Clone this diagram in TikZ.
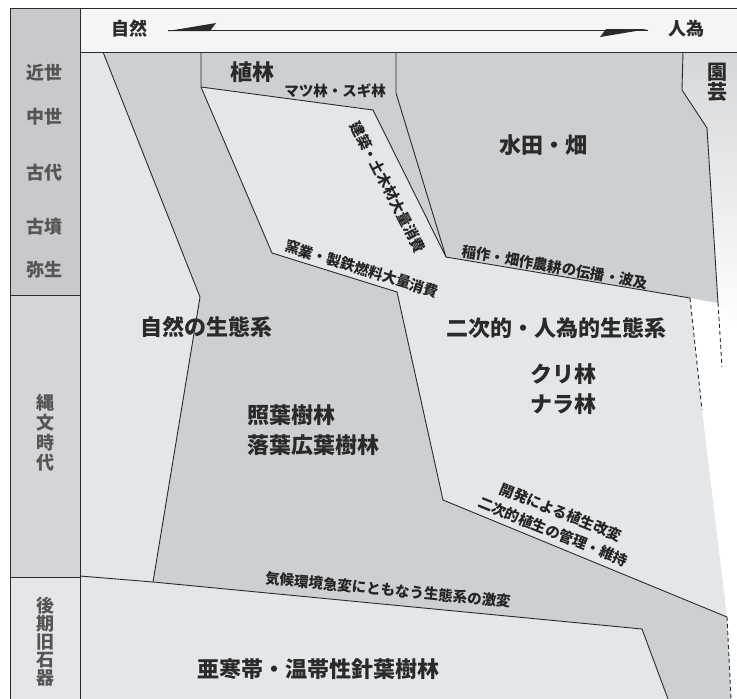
\documentclass[tikz,border=0pt]{standalone}
\usepackage{fontspec}
\setmainfont{Noto Sans CJK JP}
\definecolor{lightreg}{HTML}{E4E7EA}
\definecolor{medreg}{HTML}{CDD0D3}
\definecolor{colup}{HTML}{C7C9CC}
\definecolor{colmid}{HTML}{D3D5D8}
\definecolor{collow}{HTML}{E4E6E9}
\definecolor{barbg}{HTML}{F4F5F7}
\definecolor{ink}{HTML}{2A2A2A}
\tikzset{
  bound/.style={draw=ink, line width=0.9pt, line join=round},
  dashb/.style={draw=ink, line width=0.9pt, dash pattern=on 4pt off 3pt},
  biglabel/.style={font=\fontsize{22}{30}\selectfont\bfseries, text=ink, inner sep=0pt},
  smalllabel/.style={font=\fontsize{14.5}{21}\selectfont\bfseries, text=ink!85!black, inner sep=0pt},
  eralabel/.style={font=\fontsize{18}{20}\selectfont\bfseries, text=ink!80, inner sep=0pt, align=center},
  barlabel/.style={font=\fontsize{18}{20}\selectfont\bfseries, text=ink, inner sep=0pt},
}
\begin{document}
\begin{tikzpicture}[x=1pt,y=-1pt]
\useasboundingbox (0,0) rectangle (737,699);
% vertices
\coordinate (a1) at (103,52);
\coordinate (a2) at (200,297);
\coordinate (a3) at (153,582);
\coordinate (k0) at (80,576);
\coordinate (k1) at (642,629);
\coordinate (k2) at (668,699);
\coordinate (b0) at (201,52);
\coordinate (b1) at (201,87);
\coordinate (b2) at (272,253);
\coordinate (b3) at (397,292);
\coordinate (b4) at (443,500);
\coordinate (b5) at (727,617);
\coordinate (b6) at (731,699);
\coordinate (m1) at (373,110);
\coordinate (m2) at (446,257);
\coordinate (p0) at (396,52);
\coordinate (p1) at (396,93);
\coordinate (r1) at (690,298);
\coordinate (r2) at (702,410);
\coordinate (g0) at (683,52);
\coordinate (g1) at (682,90);
\coordinate (g2) at (707,128);
\coordinate (g3) at (718,303);
\coordinate (g4) at (722,367);
\coordinate (arrL) at (168,30);
\coordinate (arrR) at (648,30);
% fills
\fill[barbg] (80,8) rectangle (737,52);
\fill[colup] (10,8) rectangle (80,295);
\fill[colmid] (10,295) rectangle (80,577);
\fill[collow] (10,577) rectangle (80,699);
\fill[lightreg] (80,52) -- (a1) -- (a2) -- (a3) -- (k0) -- cycle;
\fill[lightreg] (k0) -- (a3) -- (k1) -- (k2) -- (80,699) -- cycle;
\fill[medreg] (a1) -- (b0) -- (b1) -- (b2) -- (b3) -- (b4) -- (b5) -- (b6) -- (k2) -- (k1) -- (a3) -- (a2) -- cycle;
\fill[medreg] (b0) -- (p0) -- (p1) -- (m2) -- (m1) -- (b1) -- cycle;
\fill[medreg] (p0) -- (g0) -- (g1) -- (g2) -- (g3) -- (r1) -- (m2) -- (p1) -- cycle;
\fill[lightreg] (b1) -- (m1) -- (m2) -- (r1) -- (r2) -- (b5) -- (b4) -- (b3) -- (b2) -- cycle;
\shade[top color=medreg!85!white, bottom color=white] (g0) -- (737,52) -- (737,330) -- (g3) -- (g2) -- (g1) -- cycle;
% frame lines
\draw[bound] (10,8) -- (737,8);
\draw[bound] (10,8) -- (10,699);
\draw[bound] (80,8) -- (80,699);
\draw[bound] (10,295) -- (80,295);
\draw[bound] (10,577) -- (80,577);
\draw[bound] (80,52) -- (737,52);
% region boundaries
\draw[bound] (a1) -- (a2) -- (a3);
\draw[bound] (k0) -- (a3) -- (k1) -- (k2);
\draw[bound] (b0) -- (b1) -- (b2) -- (b3) -- (b4) -- (b5);
\draw[bound] (b1) -- (m1) -- (m2);
\draw[bound] (p0) -- (p1) -- (m2) -- (r1);
\draw[dashb] (r1) -- (r2);
\draw[bound] (g0) -- (g1) -- (g2) -- (g3);
\draw[dashb] (g3) -- (g4);
\draw[dashb] (b5) -- (b6);
% top arrow
\draw[draw=ink, line width=0.8pt] (arrL) -- (arrR);
\fill[ink] (168,31) -- (216,23) -- (210,31) -- cycle;
\fill[ink] (648,29) -- (600,37) -- (606,29) -- cycle;
\node[barlabel] (tShizen) at (129,29) {自然};
\node[barlabel] (tJini) at (686,29) {人為};
% era labels
\node[eralabel] (e1) at (45,73) {近世};
\node[eralabel] (e2) at (45,117) {中世};
\node[eralabel] (e3) at (45,173) {古代};
\node[eralabel] (e4) at (45,227) {古墳};
\node[eralabel] (e5) at (45,270) {弥生};
\node[eralabel] (e6) at (45,433) {縄\\文\\時\\代};
\node[eralabel, font=\fontsize{18}{18}\selectfont\bfseries] (e7) at (45,642) {後\\期\\旧\\石\\器};
% region labels
\node[biglabel] (tShokurin) at (252,72) {植林};
\node[smalllabel] (tMatsu) at (335,91) {マツ林・スギ林};
\node[smalllabel, rotate=-62.5] (tKenchiku) at (388,187) {建築・土木材大量消費};
\node[smalllabel, rotate=-17] (tYogyo) at (362,269) {窯業・製鉄燃料大量消費};
\node[smalllabel, rotate=-10] (tInasaku) at (555,267) {稲作・畑作農耕の伝播・波及};
\node[biglabel] (tSuiden) at (543,145) {水田・畑};
\node[biglabel, align=center, font=\fontsize{20}{20}\selectfont\bfseries] (tEngei) at (717,82) {園\\芸};
\node[biglabel] (tShizenEco) at (206,327) {自然の生態系};
\node[biglabel] (tNijiEco) at (556,328) {二次的・人為的生態系};
\node[biglabel, align=center] (tKuri) at (563,389) {クリ林\\ナラ林};
\node[biglabel, align=left, anchor=west] (tShoyo) at (247,430) {照葉樹林\\落葉広葉樹林};
\node[smalllabel, align=center, rotate=-22] (tKaihatsu) at (557,522) {開発による植生改変\\二次的植生の管理・維持};
\node[smalllabel, rotate=-5.5] (tKiko) at (388,590) {気候環境急変にともなう生態系の激変};
\node[biglabel] (tAkan) at (318,669) {亜寒帯・温帯性針葉樹林};
\end{tikzpicture}
\end{document}
